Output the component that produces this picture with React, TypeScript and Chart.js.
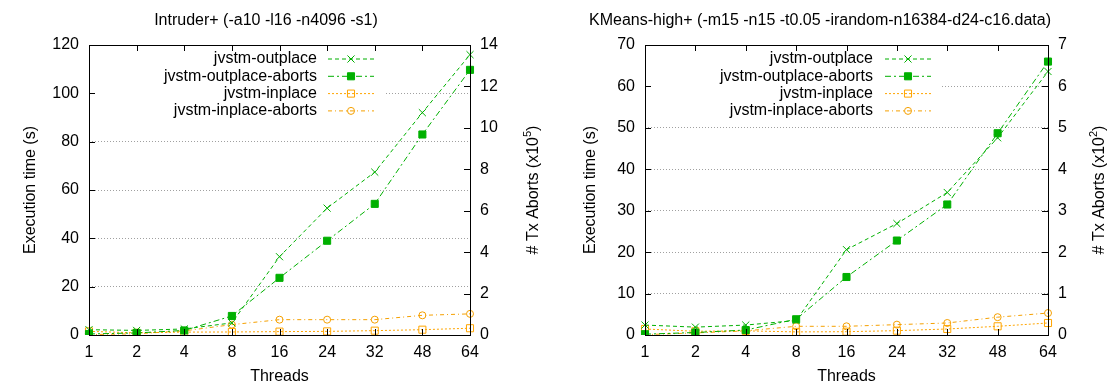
import React, { useEffect, useRef } from 'react';
import { Chart, registerables } from 'chart.js';
import { drawPoint } from 'chart.js/helpers';

Chart.register(...registerables);

const threads = ['1', '2', '4', '8', '16', '24', '32', '48', '64'];

// Intruder+ : execution time (s) and aborts (x10^5)
const intruderOutplace = [2.2, 1.9, 2.5, 5.0, 32.4, 52.5, 67.4, 92, 116];
const intruderOutplaceAborts = [0.05, 0.1, 0.22, 0.92, 2.76, 4.55, 6.33, 9.68, 12.8];
const intruderInplace = [1.5, 0.9, 1.2, 1.25, 1.4, 1.5, 1.8, 2.2, 2.8];
const intruderInplaceAborts = [0.02, 0.06, 0.2, 0.5, 0.74, 0.74, 0.74, 0.95, 1.02];

// KMeans-high+ : execution time (s) and aborts (x10^2)
const kmeansOutplace = [2.4, 1.9, 2.4, 3.5, 20.6, 26.9, 34.4, 47.6, 63.6];
const kmeansOutplaceAborts = [0.02, 0.06, 0.12, 0.38, 1.4, 2.28, 3.15, 4.87, 6.6];
const kmeansInplace = [1.45, 0.9, 1.0, 0.75, 0.8, 1.05, 1.45, 2.1, 2.9];
const kmeansInplaceAborts = [0.01, 0.05, 0.1, 0.21, 0.21, 0.25, 0.29, 0.43, 0.53];

const seriesNames = ['jvstm-outplace', 'jvstm-outplace-aborts', 'jvstm-inplace', 'jvstm-inplace-aborts'];

const FONT = '"Liberation Sans", Arial, sans-serif';
const FS = 16;
const GREEN = '#00b000';
const ORANGE = '#ffa500';
const ORANGE2 = '#f5a000';

function makeDatasets(o: number[], oa: number[], i: number[], ia: number[]) {
  return [
    {
      label: seriesNames[0], data: o, yAxisID: 'y',
      borderColor: GREEN, backgroundColor: GREEN, borderWidth: 1, borderDash: [4, 3],
      pointStyle: 'crossRot', pointRadius: 5, pointBorderWidth: 1, pointBorderColor: GREEN,
    },
    {
      label: seriesNames[1], data: oa, yAxisID: 'y1',
      borderColor: GREEN, backgroundColor: GREEN, borderWidth: 1, borderDash: [6, 3, 2, 3],
      pointStyle: 'rect', pointRadius: 5, pointBorderWidth: 1, pointBorderColor: GREEN, pointBackgroundColor: GREEN,
    },
    {
      label: seriesNames[2], data: i, yAxisID: 'y',
      borderColor: ORANGE, backgroundColor: 'rgba(0,0,0,0)', borderWidth: 1, borderDash: [2, 2],
      pointStyle: 'rect', pointRadius: 5, pointBorderWidth: 1, pointBorderColor: ORANGE, pointBackgroundColor: 'rgba(0,0,0,0)',
    },
    {
      label: seriesNames[3], data: ia, yAxisID: 'y1',
      borderColor: ORANGE2, backgroundColor: 'rgba(0,0,0,0)', borderWidth: 1, borderDash: [4, 3, 1, 3],
      pointStyle: 'circle', pointRadius: 3.5, pointBorderWidth: 1, pointBorderColor: ORANGE2, pointBackgroundColor: 'rgba(0,0,0,0)',
    },
  ];
}

type Cfg = {
  title: string;
  titleX: number;
  yMax: number; yStep: number;
  y1Max: number; y1Step: number;
  yWidth: number; y1Width: number;
  yTitleX: number; y1TitleX: number;
  exp: string;
  legendTextX: number; legendSampleX: number; boxRight: number;
  datasets: any[];
};

function drawRotated(ctx: CanvasRenderingContext2D, x: number, y: number, parts: { t: string; sup?: boolean }[]) {
  ctx.save();
  ctx.translate(x, y);
  ctx.rotate(-Math.PI / 2);
  ctx.fillStyle = '#000';
  ctx.textBaseline = 'middle';
  ctx.textAlign = 'left';
  let total = 0;
  const widths = parts.map((p) => {
    ctx.font = `${p.sup ? 11 : FS}px ${FONT}`;
    const w = ctx.measureText(p.t).width;
    total += w;
    return w;
  });
  let cx = -total / 2;
  parts.forEach((p, k) => {
    ctx.font = `${p.sup ? 11 : FS}px ${FONT}`;
    ctx.fillText(p.t, cx, p.sup ? -6 : 0);
    cx += widths[k];
  });
  ctx.restore();
}

function makePlugin(cfg: Cfg) {
  return {
    id: 'gnuplotDecor',
    afterDraw(chart: any) {
      const ctx: CanvasRenderingContext2D = chart.ctx;
      const { left, right, top, bottom } = chart.chartArea;

      // legend box (opaque, hides grid)
      ctx.save();
      ctx.fillStyle = '#fff';
      ctx.fillRect(left + 1, 49, cfg.boxRight - left - 1, 71);
      ctx.font = `${FS}px ${FONT}`;
      ctx.textAlign = 'right';
      ctx.textBaseline = 'middle';
      chart.data.datasets.forEach((ds: any, k: number) => {
        const y = 59 + 17.3 * k;
        ctx.fillStyle = '#000';
        ctx.fillText(ds.label, cfg.legendTextX, y);
        ctx.strokeStyle = ds.borderColor;
        ctx.lineWidth = ds.borderWidth;
        ctx.setLineDash(ds.borderDash || []);
        ctx.beginPath();
        ctx.moveTo(cfg.legendSampleX, y);
        ctx.lineTo(cfg.legendSampleX + 46, y);
        ctx.stroke();
        ctx.setLineDash([]);
        ctx.fillStyle = ds.pointBackgroundColor || ds.borderColor;
        ctx.strokeStyle = ds.pointBorderColor;
        ctx.lineWidth = ds.pointBorderWidth;
        drawPoint(ctx, { pointStyle: ds.pointStyle, radius: ds.pointRadius, borderWidth: ds.pointBorderWidth, rotation: 0 } as any, cfg.legendSampleX + 23, y);
      });
      ctx.restore();

      // border and inward ticks
      ctx.save();
      ctx.strokeStyle = '#000';
      ctx.lineWidth = 1;
      ctx.setLineDash([]);
      ctx.strokeRect(Math.round(left) + 0.5, Math.round(top) + 0.5, Math.round(right - left), Math.round(bottom - top));
      const xs = chart.scales.x;
      const ys = chart.scales.y;
      const y1 = chart.scales.y1;
      ctx.beginPath();
      xs.ticks.forEach((_: any, k: number) => {
        const px = Math.round(xs.getPixelForTick(k)) + 0.5;
        ctx.moveTo(px, bottom); ctx.lineTo(px, bottom - 6);
        ctx.moveTo(px, top); ctx.lineTo(px, top + 6);
      });
      ys.ticks.forEach((_: any, k: number) => {
        const py = Math.round(ys.getPixelForTick(k)) + 0.5;
        ctx.moveTo(left, py); ctx.lineTo(left + 6, py);
      });
      y1.ticks.forEach((_: any, k: number) => {
        const py = Math.round(y1.getPixelForTick(k)) + 0.5;
        ctx.moveTo(right, py); ctx.lineTo(right - 6, py);
      });
      ctx.stroke();
      ctx.restore();

      // titles
      ctx.save();
      ctx.fillStyle = '#000';
      ctx.font = `${FS}px ${FONT}`;
      ctx.textAlign = 'center';
      ctx.textBaseline = 'middle';
      ctx.fillText(cfg.title, cfg.titleX, 21);
      ctx.fillText('Threads', (left + right) / 2, 377);
      ctx.restore();
      drawRotated(ctx, cfg.yTitleX, (top + bottom) / 2, [{ t: 'Execution time (s)' }]);
      drawRotated(ctx, cfg.y1TitleX, (top + bottom) / 2, [{ t: '# Tx Aborts (x10' }, { t: cfg.exp, sup: true }, { t: ')' }]);
    },
  };
}

function GnuplotChart({ cfg }: { cfg: Cfg }) {
  const ref = useRef<HTMLCanvasElement>(null);
  useEffect(() => {
    if (!ref.current) return;
    const tickFont = { family: FONT, size: FS };
    const chart = new Chart(ref.current, {
      type: 'line',
      data: { labels: threads, datasets: cfg.datasets },
      options: {
        animation: false,
        responsive: true,
        maintainAspectRatio: false,
        layout: { padding: { top: 45, left: 0, right: 0, bottom: 0 } },
        plugins: { legend: { display: false }, title: { display: false }, tooltip: { enabled: false } },
        elements: { line: { tension: 0 } },
        scales: {
          x: {
            type: 'category', offset: false,
            grid: { display: false, drawTicks: false },
            border: { display: false },
            ticks: { font: tickFont, color: '#000', padding: 8, maxRotation: 0, autoSkip: false },
            afterFit: (s: any) => { s.height = 50; },
          },
          y: {
            position: 'left', min: 0, max: cfg.yMax,
            ticks: { stepSize: cfg.yStep, font: tickFont, color: '#000', padding: 10 },
            grid: { color: '#a0a0a0', drawTicks: false, lineWidth: 1 },
            border: { display: false, dash: [1, 2] },
            afterFit: (s: any) => { s.width = cfg.yWidth; },
          },
          y1: {
            position: 'right', min: 0, max: cfg.y1Max,
            ticks: { stepSize: cfg.y1Step, font: tickFont, color: '#000', padding: 10 },
            grid: { display: false, drawTicks: false },
            border: { display: false },
            afterFit: (s: any) => { s.width = cfg.y1Width; },
          },
        },
      } as any,
      plugins: [makePlugin(cfg)],
    });
    return () => chart.destroy();
  }, [cfg]);
  return (
    <div style={{ position: 'relative', width: 554, height: 385 }}>
      <canvas ref={ref} />
    </div>
  );
}

const leftCfg: Cfg = {
  title: 'Intruder+ (-a10 -l16 -n4096 -s1)',
  titleX: 266,
  yMax: 120, yStep: 20, y1Max: 14, y1Step: 2,
  yWidth: 89, y1Width: 84,
  yTitleX: 31, y1TitleX: 534,
  exp: '5',
  legendTextX: 317, legendSampleX: 328, boxRight: 385,
  datasets: makeDatasets(intruderOutplace, intruderOutplaceAborts, intruderInplace, intruderInplaceAborts),
};

const rightCfg: Cfg = {
  title: 'KMeans-high+ (-m15 -n15 -t0.05 -irandom-n16384-d24-c16.data)',
  titleX: 266,
  yMax: 70, yStep: 10, y1Max: 7, y1Step: 1,
  yWidth: 91, y1Width: 60,
  yTitleX: 37, y1TitleX: 546,
  exp: '2',
  legendTextX: 319, legendSampleX: 331, boxRight: 388,
  datasets: makeDatasets(kmeansOutplace, kmeansOutplaceAborts, kmeansInplace, kmeansInplaceAborts),
};

Chart.defaults.font.family = FONT;

export default function App() {
  return (
    <div style={{ position: 'absolute', left: 0, top: 0, width: 1108, height: 385, display: 'flex', background: '#fff' }}>
      <GnuplotChart cfg={leftCfg} />
      <GnuplotChart cfg={rightCfg} />
    </div>
  );
}
